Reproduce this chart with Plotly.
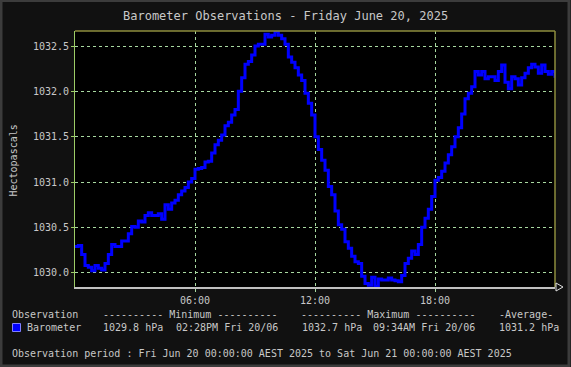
import pandas as pd
import plotly.graph_objects as go

# ---- data (10-minute readings, hPa) ----
start_time = "2025-06-20 00:00"
pressure_hpa = [
    1030.29, 1030.30, 1030.20, 1030.08, 1030.06, 1030.02, 1030.08, 1030.05, 1030.03, 1030.10,
    1030.20, 1030.31, 1030.29, 1030.29, 1030.35, 1030.35, 1030.43, 1030.51, 1030.50, 1030.57,
    1030.56, 1030.63, 1030.66, 1030.63, 1030.63, 1030.65, 1030.59, 1030.75, 1030.70, 1030.77,
    1030.80, 1030.86, 1030.90, 1030.94, 1031.00, 1031.04, 1031.14, 1031.15, 1031.16, 1031.22,
    1031.23, 1031.32, 1031.41, 1031.46, 1031.52, 1031.62, 1031.66, 1031.74, 1031.80, 1032.00,
    1032.15, 1032.30, 1032.33, 1032.40, 1032.50, 1032.52, 1032.52, 1032.63, 1032.60, 1032.62,
    1032.66, 1032.62, 1032.58, 1032.52, 1032.38, 1032.32, 1032.26, 1032.18, 1032.12, 1031.98,
    1031.87, 1031.74, 1031.50, 1031.36, 1031.24, 1031.13, 1030.95, 1030.86, 1030.68, 1030.53,
    1030.48, 1030.34, 1030.27, 1030.18, 1030.12, 1030.10, 1029.96, 1029.88, 1029.86, 1029.95,
    1029.85, 1029.93, 1029.92, 1029.92, 1029.94, 1029.92, 1029.91, 1029.90, 1029.97, 1030.10,
    1030.16, 1030.24, 1030.20, 1030.31, 1030.50, 1030.60, 1030.70, 1030.84, 1031.02, 1031.05,
    1031.12, 1031.21, 1031.30, 1031.39, 1031.50, 1031.60, 1031.75, 1031.92, 1031.98, 1032.05,
    1032.22, 1032.18, 1032.22, 1032.14, 1032.16, 1032.16, 1032.12, 1032.22, 1032.29, 1032.10,
    1032.03, 1032.16, 1032.14, 1032.07, 1032.15, 1032.20, 1032.26, 1032.30, 1032.27, 1032.20,
    1032.29, 1032.22, 1032.19, 1032.22, 1032.15,
]
times = pd.date_range(start_time, periods=len(pressure_hpa), freq="10min")

x_tick_vals = ["2025-06-20 06:00", "2025-06-20 12:00", "2025-06-20 18:00"]
x_tick_text = ["06:00", "12:00", "18:00"]
y_tick_vals = [1030.0, 1030.5, 1031.0, 1031.5, 1032.0, 1032.5]
y_tick_text = ["1030.0", "1030.5", "1031.0", "1031.5", "1032.0", "1032.5"]

title_text = "Barometer Observations - Friday June 20, 2025"
y_title = "Hectopascals"
legend_header = ["Observation", "---------- Minimum ----------", "---------- Maximum ----------", "-Average-"]
legend_row = ["Barometer", "1029.8 hPa", "02:28PM Fri 20/06", "1032.7 hPa", "09:34AM Fri 20/06", "1031.2 hPa"]
period_text = "Observation period : Fri Jun 20 00:00:00 AEST 2025 to Sat Jun 21 00:00:00 AEST 2025"

# ---- layout geometry (pixels) ----
W, H = 571, 367
L, R, T, B = 75, 16, 31, 80
PW, PH = W - L - R, H - T - B

def px(x):
    return (x - L) / PW

def py(y):
    return (H - B - y) / PH

FONT = "DejaVu Sans Mono"
TXT = "#c8c8c8"
GRID = "#a8d8a0"
OLIVE = "#8c8c3c"
AXG = "#9ccc66"

fig = go.Figure()
fig.add_trace(go.Scatter(
    x=times, y=pressure_hpa, mode="lines", line=dict(color="#0000ff", width=3, shape="hv"),
    showlegend=False, hoverinfo="skip",
))

fig.update_layout(
    width=W, height=H,
    margin=dict(l=L, r=R, t=T, b=B, pad=0),
    paper_bgcolor="#111111", plot_bgcolor="#000000",
    showlegend=False,
    font=dict(family=FONT, size=10, color=TXT),
    xaxis=dict(
        range=["2025-06-20 00:00", "2025-06-21 00:00"],
        tickvals=x_tick_vals, ticktext=x_tick_text,
        showgrid=True, gridcolor=GRID, griddash="dot", gridwidth=1,
        showline=True, linecolor="#c0c0c0", linewidth=2,
        ticks="outside", ticklen=3, tickcolor=GRID,
        zeroline=False, fixedrange=True,
        tickfont=dict(family=FONT, size=10, color=TXT),
    ),
    yaxis=dict(
        range=[1029.842, 1032.666],
        tickvals=y_tick_vals, ticktext=y_tick_text,
        showgrid=True, gridcolor=GRID, griddash="dot", gridwidth=1,
        showline=True, linecolor=AXG, linewidth=1,
        ticks="outside", ticklen=3, tickcolor=AXG,
        zeroline=False, fixedrange=True,
        tickfont=dict(family=FONT, size=10, color=TXT),
    ),
)

shapes = []
# top and right borders of plot
shapes.append(dict(type="line", xref="paper", yref="paper", x0=0, x1=1, y0=1, y1=1,
                   line=dict(color=OLIVE, width=1.5)))
shapes.append(dict(type="line", xref="paper", yref="paper", x0=1, x1=1, y0=0, y1=1,
                   line=dict(color=OLIVE, width=1.5)))
# outer frame
shapes.append(dict(type="rect", xref="paper", yref="paper", x0=px(1), x1=px(569), y0=py(366), y1=py(0.5),
                   line=dict(color="#3c3c3c", width=3), fillcolor="rgba(0,0,0,0)", layer="above"))
# arrow at end of x axis
shapes.append(dict(type="path", xref="paper", yref="paper", xsizemode="pixel", ysizemode="pixel",
                   xanchor=1, yanchor=0, path="M 1 -4 L 8 0 L 1 4 Z",
                   line=dict(color="#e0e0e0", width=1), fillcolor="#111111"))
# legend colour box
shapes.append(dict(type="rect", xref="paper", yref="paper", x0=px(12.5), x1=px(20.5), y0=py(331.5), y1=py(323.5),
                   line=dict(color="#8080ff", width=1), fillcolor="#0000ff"))
fig.update_layout(shapes=shapes)

ann = []

def add_text(text, x, y, size=10, xanchor="left", angle=0):
    ann.append(dict(text=text, x=px(x), y=py(y), xref="paper", yref="paper", showarrow=False,
                    xanchor=xanchor, yanchor="middle", textangle=angle, borderpad=0, borderwidth=0,
                    font=dict(family=FONT, size=size, color=TXT)))

add_text(title_text, 285.5, 15.5, size=12, xanchor="center")
add_text(y_title, 12.5, 160, size=10, xanchor="center", angle=-90)

hdr_x = [12, 102.7, 301, 499]
for t, x in zip(legend_header, hdr_x):
    add_text(t, x, 314.5)
row_x = [26.7, 103.3, 175.7, 301.7, 373, 499]
for t, x in zip(legend_row, row_x):
    add_text(t, x, 327.5)
add_text(period_text, 12, 353.5)

fig.update_layout(annotations=ann)

fig.write_html(
    "out.html",
    config={"displayModeBar": False, "staticPlot": True},
    post_script="document.body.style.margin='0';document.body.style.overflow='hidden';",
)
